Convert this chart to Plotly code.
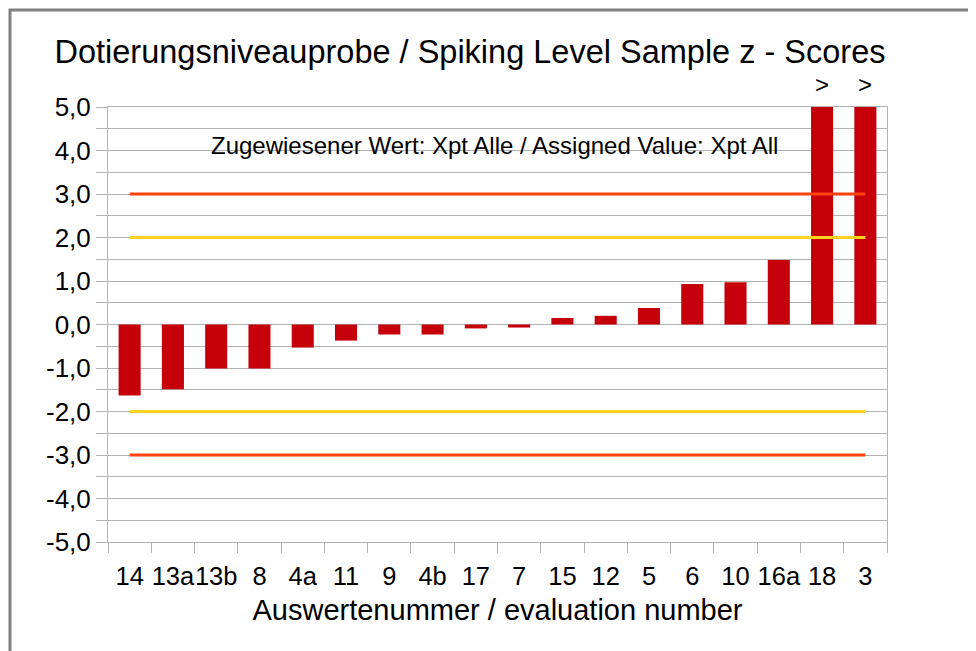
import plotly.graph_objects as go

categories = ["14", "13a", "13b", "8", "4a", "11", "9", "4b", "17", "7", "15", "12", "5", "6", "10", "16a", "18", "3"]
z_scores = [-1.63, -1.49, -1.01, -1.01, -0.53, -0.37, -0.23, -0.23, -0.09, -0.07, 0.15, 0.20, 0.38, 0.93, 0.97, 1.48, 5.0, 5.0]
over_range = ["", "", "", "", "", "", "", "", "", "", "", "", "", "", "", "", ">", ">"]
limit_warn = 2.0
limit_action = 3.0
y_ticks = [-5.0 + 0.5 * i for i in range(21)]

font = "Liberation Sans, Arial, sans-serif"

fig = go.Figure()
fig.add_trace(go.Bar(x=categories, y=z_scores, marker_color="#C5000B", marker_line_width=0, showlegend=False))
for val, col in [(limit_action, "#FF420E"), (-limit_action, "#FF420E"), (limit_warn, "#FFD320"), (-limit_warn, "#FFD320")]:
    fig.add_trace(go.Scatter(x=categories, y=[val] * len(categories), mode="lines",
                             line=dict(color=col, width=3), showlegend=False, hoverinfo="skip"))

for i, (v, s) in enumerate(zip(z_scores, over_range)):
    if s:
        fig.add_annotation(x=i, y=v, text=s, showarrow=False, yanchor="bottom", yshift=7,
                           font=dict(size=24, color="black", family=font))

fig.add_annotation(x=0.496, xref="paper", y=4.12, yref="y",
                   text="Zugewiesener Wert: Xpt Alle / Assigned Value: Xpt All",
                   showarrow=False, font=dict(size=24, color="black", family=font), xanchor="center")

tick_text = [("%.1f" % t).replace(".", ",") if abs(t - round(t)) < 1e-9 else "" for t in y_ticks]

fig.update_layout(
    width=976, height=651,
    paper_bgcolor="white", plot_bgcolor="white",
    margin=dict(l=100, r=97, t=99, b=117, autoexpand=False),
    bargap=0.49,
    title=dict(text="Dotierungsniveauprobe / Spiking Level Sample z - Scores", x=462 / 976, xanchor="center",
               xref="container", yref="container", y=1 - 44 / 651, yanchor="middle",
               font=dict(size=32.5, color="black", family=font)),
    font=dict(family=font, color="black"),
    shapes=[dict(type="rect", xref="paper", yref="paper",
                 x0=-98 / 779, x1=1 + 120 / 779, y0=-160 / 435, y1=1 + 97 / 435,
                 line=dict(color="#808080", width=3), layer="below")],
)
fig.update_xaxes(type="category", tickson="boundaries", ticks="outside", ticklen=10, tickcolor="#b3b3b3",
                 showline=True, linecolor="#b3b3b3", mirror=True, showgrid=False, tickangle=0,
                 automargin=False, range=[-0.5, 17.5], ticklabelstandoff=11,
                 tickfont=dict(size=25.5, color="black"),
                 title=dict(text="Auswertenummer / evaluation number", font=dict(size=29, color="black"), standoff=11))
fig.update_yaxes(range=[-5, 5], tickvals=y_ticks, ticktext=tick_text, ticks="outside", ticklen=11,
                 tickcolor="#b3b3b3", showline=True, linecolor="#b3b3b3", mirror=True, automargin=False,
                 showgrid=True, gridcolor="#b3b3b3", gridwidth=1, zeroline=False,
                 tickfont=dict(size=26, color="black"))

fig.write_html("out.html")
